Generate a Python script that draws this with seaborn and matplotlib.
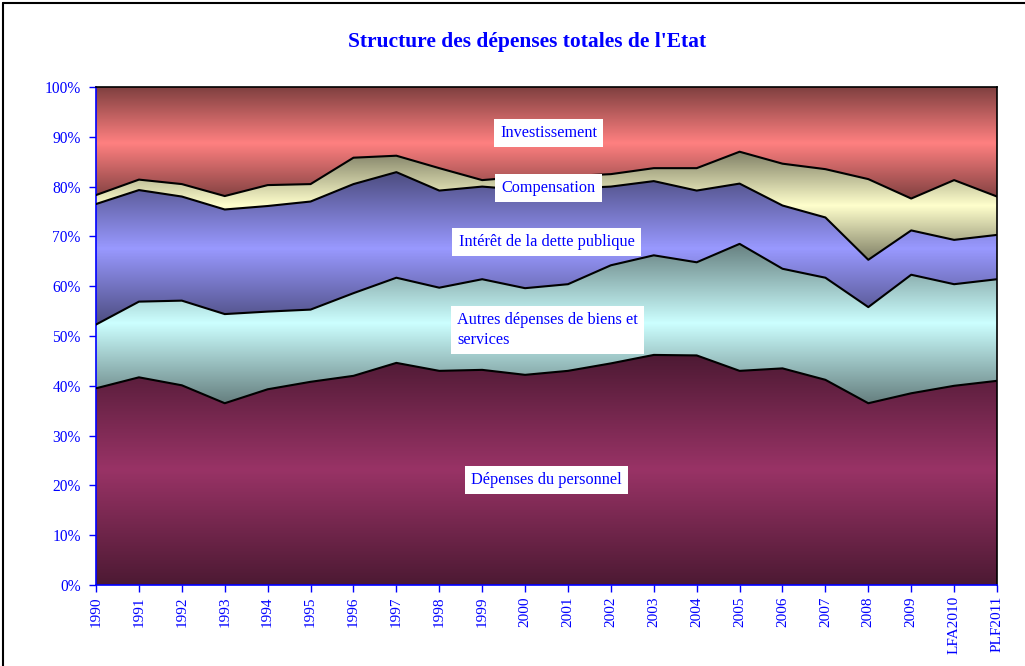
import numpy as np
import pandas as pd
import seaborn as sns
import matplotlib.pyplot as plt
from matplotlib.colors import LinearSegmentedColormap, to_rgb
from matplotlib.patches import PathPatch
from matplotlib.lines import Line2D

# categories (axe des x)
annees = ['1990', '1991', '1992', '1993', '1994', '1995', '1996', '1997', '1998', '1999',
          '2000', '2001', '2002', '2003', '2004', '2005', '2006', '2007', '2008', '2009',
          'LFA2010', 'PLF2011']

# parts dans les depenses totales (%)
personnel = [39.5, 41.7, 40.1, 36.5, 39.3, 40.8, 42.0, 44.6, 43.0, 43.2, 42.2,
             43.0, 44.5, 46.2, 46.1, 43.0, 43.5, 41.2, 36.5, 38.5, 40.0, 41.0]
autres = [12.8, 15.2, 17.0, 17.9, 15.6, 14.5, 16.6, 17.1, 16.7, 18.2, 17.4,
          17.4, 19.7, 20.0, 18.7, 25.5, 20.0, 20.5, 19.3, 23.8, 20.4, 20.4]
interet = [24.2, 22.4, 20.9, 21.0, 21.2, 21.7, 21.9, 21.2, 19.5, 18.6, 19.7,
           19.2, 15.8, 14.9, 14.4, 12.1, 12.7, 12.1, 9.5, 8.9, 8.9, 8.9]
compensation = [1.8, 2.1, 2.5, 2.7, 4.2, 3.5, 5.3, 3.3, 4.5, 1.3, 2.7,
                2.5, 2.5, 2.6, 4.5, 6.4, 8.4, 9.7, 16.2, 6.4, 12.0, 7.7]
investissement = [21.7, 18.6, 19.5, 21.9, 19.7, 19.5, 14.2, 13.8, 16.3, 18.7, 18.0,
                  17.9, 17.5, 16.3, 16.3, 13.0, 15.4, 16.5, 18.5, 22.4, 18.7, 22.0]

series = ['Dépenses du personnel', 'Autres dépenses de biens et services',
          'Intérêt de la dette publique', 'Compensation', 'Investissement']
valeurs = [personnel, autres, interet, compensation, investissement]
couleurs = ['#993366', '#CCFFFF', '#9999FF', '#FFFFCC', '#FF8080']

# etiquettes dans les zones
etiquettes = ['Dépenses du personnel', 'Autres dépenses de biens et\nservices',
              'Intérêt de la dette publique', 'Compensation', 'Investissement']
pos_etiq = [(10.5, 21.1), (8.42, 51.2), (10.5, 68.9), (10.55, 79.7), (10.55, 90.8)]

sns.set_style("white")
plt.rcParams['font.family'] = ['Liberation Serif', 'DejaVu Serif']

bleu = '#0000FF'
x = np.arange(len(annees))
df = pd.DataFrame({s: v for s, v in zip(series, valeurs)})
cumul = df.cumsum(axis=1)

fig = plt.figure(figsize=(10.25, 6.66), dpi=100)
ax = fig.add_axes([0.0937, 0.1216, 0.8790, 0.7478])

bas = np.zeros(len(x))
for s, c in zip(series, couleurs):
    haut = cumul[s].values
    poly = ax.fill_between(x, bas, haut, facecolor='none', edgecolor='none')
    # degrade "du centre" facon Excel
    c1 = np.array(to_rgb(c))
    cmap = LinearSegmentedColormap.from_list(s, [c1 * 0.5, c1, c1 * 0.5])
    y0, y1 = bas.min(), haut.max()
    grad = np.linspace(0, 1, 256).reshape(-1, 1)
    im = ax.imshow(grad, extent=[x[0], x[-1], y0, y1], origin='lower',
                   aspect='auto', cmap=cmap, zorder=1, interpolation='bilinear')
    patch = PathPatch(poly.get_paths()[0], facecolor='none', edgecolor='none',
                      transform=ax.transData)
    ax.add_patch(patch)
    im.set_clip_path(patch)
    bas = haut

# lignes de separation
lignes = cumul[series[:-1]].copy()
lignes['x'] = x
long = lignes.melt(id_vars='x', var_name='serie', value_name='cumul')
sns.lineplot(data=long, x='x', y='cumul', units='serie', estimator=None,
             color='black', linewidth=1.5, ax=ax, zorder=3)

for txt, (tx, ty) in zip(etiquettes, pos_etiq):
    ha = 'left' if '\n' in txt else 'center'
    ax.text(tx, ty, txt, ha=ha, va='center', color=bleu, fontsize=11.7,
            zorder=5, linespacing=1.3,
            bbox=dict(facecolor='white', edgecolor='none', pad=4.5))

ax.set_xlim(x[0], x[-1])
ax.set_ylim(0, 100)
ax.set_xticks(x)
ax.set_xticklabels(annees, rotation=90, color=bleu, fontsize=11)
ax.set_yticks(np.arange(0, 101, 10))
ax.set_yticklabels([f'{v}%' for v in range(0, 101, 10)], color=bleu, fontsize=11.2)
ax.tick_params(axis='both', direction='out', length=5, width=1, color=bleu,
               left=True, bottom=True, pad=3)
ax.tick_params(axis='y', pad=6)
ax.set_xlabel('')
ax.set_ylabel('')
for side in ['left', 'bottom']:
    ax.spines[side].set_color(bleu)
    ax.spines[side].set_linewidth(1.2)
for side in ['top', 'right']:
    ax.spines[side].set_color('black')
    ax.spines[side].set_linewidth(1.2)
    ax.spines[side].set_visible(True)

fig.text(0.514, 0.937, "Structure des dépenses totales de l'Etat", ha='center',
         va='center', color=bleu, fontsize=15.5, fontweight='bold')

# cadre du graphique
fig.add_artist(Line2D([0.003, 0.003], [0, 0.996], color='black', lw=1.5))
fig.add_artist(Line2D([0.003, 1.0], [0.996, 0.996], color='black', lw=1.5))

fig.savefig('out.png', dpi=100)
